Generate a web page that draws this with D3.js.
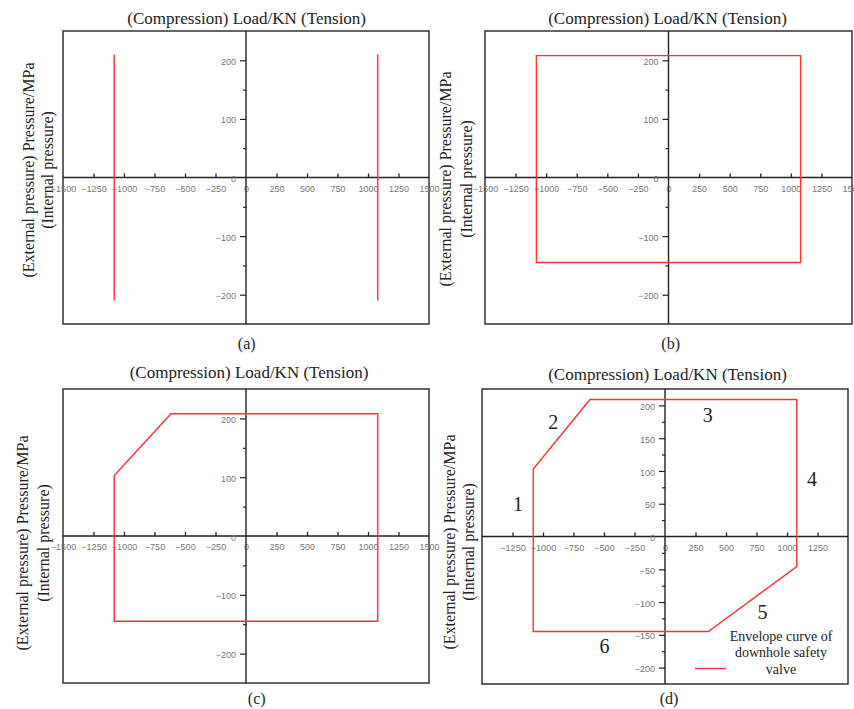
<!DOCTYPE html>
<html>
<head>
<meta charset="utf-8">
<style type="text/css">
body { margin: 0; background: #fff; }
.title, .sub, .ylab, .num, .leg { font-family: "Liberation Serif", "Times New Roman", serif; fill: #222; }
.tick text { font-family: "Liberation Sans", sans-serif; font-size: 9px; fill: #777; }
</style>
</head>
<body>
<script src="https://cdn.jsdelivr.net/npm/d3@7"></script>
<script type="text/javascript">
  // tick values
  var xTicksFull = [-1500, -1250, -1000, -750, -500, -250, 0, 250, 500, 750, 1000, 1250, 1500];
  var xTicksD = [-1250, -1000, -750, -500, -250, 0, 250, 500, 750, 1000, 1250];
  var yMajorABC = [-200, -100, 0, 100, 200];
  var yMinorABC = [-150, -50, 50, 150];
  var yMajorD = [-200, -150, -100, -50, 0, 50, 100, 150, 200];
  var yMinorD = [-175, -125, -75, -25, 25, 75, 125, 175];

  // envelope data (load KN, pressure MPa)
  var linesA = [
    [[-1080, -210], [-1080, 210]],
    [[1080, -210], [1080, 210]]
  ];
  var envelopeB = [[-1080, -145], [-1080, 208], [1080, 208], [1080, -145]];
  var envelopeC = [[-1080, -145], [-1080, 103], [-615, 208], [1080, 208], [1080, -145]];
  var envelopeD = [[-1080, -145], [-1080, 103], [-615, 209], [1080, 209], [1080, -46], [355, -145]];

  // zone numbers in (d)
  var zoneNames = ['1', '2', '3', '4', '5', '6'];
  var zoneX = [-1205, -915, 350, 1205, 800, -495];
  var zoneY = [50, 174, 186, 87, -115, -167];

  var legendLines = ['Envelope curve of', 'downhole safety', 'valve'];

  var svg = d3.select('body').append('svg')
          .attr('width', 854)
          .attr('height', 709);

  var fmt = d3.format('d');

  var panels = [
    {id: 'a', x0: 63, x1: 429, y0: 31, y1: 324, yDom: [-250, 250], xt: xTicksFull, yMaj: yMajorABC, yMin: yMinorABC,
     title: [246.7, 24], sub: [246.7, 349], yl: [28, 47, 170], paths: linesA, closed: false},
    {id: 'b', x0: 485, x1: 852, y0: 31, y1: 324, yDom: [-250, 250], xt: xTicksFull, yMaj: yMajorABC, yMin: yMinorABC,
     title: [667.5, 24], sub: [670.7, 349], yl: [445, 466, 179], paths: [envelopeB], closed: true},
    {id: 'c', x0: 63, x1: 429, y0: 389, y1: 683, yDom: [-250, 250], xt: xTicksFull, yMaj: yMajorABC, yMin: yMinorABC,
     title: [249, 378], sub: [256.7, 704], yl: [22, 43, 543], paths: [envelopeC], closed: true},
    {id: 'd', x0: 482, x1: 848, y0: 389, y1: 684, yDom: [-225, 225], xt: xTicksD, yMaj: yMajorD, yMin: yMinorD,
     title: [667.5, 380], sub: [669, 704], yl: [449, 468, 542], paths: [envelopeD], closed: true}
  ];

  panels.forEach(function(p) {
    var g = svg.append('g').attr('class', 'panel-' + p.id);
    var x = d3.scaleLinear().domain([-1500, 1500]).range([p.x0, p.x1]);
    var y = d3.scaleLinear().domain(p.yDom).range([p.y1, p.y0]);

    // frame
    g.append('rect')
      .attr('x', p.x0).attr('y', p.y0)
      .attr('width', p.x1 - p.x0).attr('height', p.y1 - p.y0)
      .attr('fill', 'none').attr('stroke', '#333').attr('stroke-width', 1.5);

    // x axis through zero, ticks pointing up
    var xa = g.append('g')
      .attr('transform', 'translate(0,' + y(0) + ')')
      .call(d3.axisBottom(x).tickValues(p.xt).tickFormat(fmt).tickSizeInner(-4).tickSizeOuter(0).tickPadding(8));
    xa.select('.domain').remove();
    xa.selectAll('.tick line').attr('stroke', '#222').attr('stroke-width', 1.3)
      .filter(function(d) { return Math.abs(d) === 1500 || d === 0; }).remove();
    g.append('line')
      .attr('x1', p.x0).attr('x2', p.x1).attr('y1', y(0)).attr('y2', y(0))
      .attr('stroke', '#222').attr('stroke-width', 1.4);

    // y axis through zero
    var ya = g.append('g')
      .attr('transform', 'translate(' + x(0) + ',0)')
      .call(d3.axisLeft(y).tickValues(p.yMaj).tickFormat(fmt).tickSizeInner(6).tickSizeOuter(0).tickPadding(4));
    ya.select('.domain').remove();
    ya.selectAll('.tick line').attr('stroke', '#222').attr('stroke-width', 1.2)
      .filter(function(d) { return d === 0; }).remove();
    ya.selectAll('.tick text').attr('dy', '0.45em');
    var ym = g.append('g')
      .attr('transform', 'translate(' + x(0) + ',0)')
      .call(d3.axisLeft(y).tickValues(p.yMin).tickSizeInner(3).tickSizeOuter(0).tickFormat(''));
    ym.select('.domain').remove();
    ym.selectAll('.tick line').attr('stroke', '#222').attr('stroke-width', 1.2);
    g.append('line')
      .attr('x1', x(0)).attr('x2', x(0)).attr('y1', p.y0).attr('y2', p.y1)
      .attr('stroke', '#222').attr('stroke-width', 1.4);

    // envelope
    var line = d3.line().x(function(d) { return x(d[0]); }).y(function(d) { return y(d[1]); });
    g.selectAll('.env')
      .data(p.paths)
      .enter().append('path')
      .attr('class', 'env')
      .attr('d', function(d) { return line(d) + (p.closed ? 'Z' : ''); })
      .attr('fill', 'none')
      .attr('stroke', '#ff3030')
      .attr('stroke-width', 1.4);

    // texts
    g.append('text').attr('class', 'title')
      .attr('x', p.title[0]).attr('y', p.title[1])
      .attr('text-anchor', 'middle').style('font-size', '17px')
      .text('(Compression) Load/KN (Tension)');
    g.append('text').attr('class', 'sub')
      .attr('x', p.sub[0]).attr('y', p.sub[1])
      .attr('text-anchor', 'middle').style('font-size', '16px')
      .text('(' + p.id + ')');
    g.append('text').attr('class', 'ylab')
      .attr('transform', 'translate(' + p.yl[0] + ',' + p.yl[2] + ') rotate(-90)')
      .attr('text-anchor', 'middle').attr('dy', '0.35em').style('font-size', '16px')
      .text('(External pressure) Pressure/MPa');
    g.append('text').attr('class', 'ylab')
      .attr('transform', 'translate(' + p.yl[1] + ',' + p.yl[2] + ') rotate(-90)')
      .attr('text-anchor', 'middle').attr('dy', '0.35em').style('font-size', '16px')
      .text('(Internal pressure)');

    if (p.id === 'd') {
      g.selectAll('.num')
        .data(zoneNames)
        .enter().append('text')
        .attr('class', 'num')
        .attr('x', function(d, i) { return x(zoneX[i]); })
        .attr('y', function(d, i) { return y(zoneY[i]); })
        .attr('dy', '0.35em')
        .attr('text-anchor', 'middle')
        .style('font-size', '20px')
        .text(function(d) { return d; });

      // legend
      g.selectAll('.leg')
        .data(legendLines)
        .enter().append('text')
        .attr('class', 'leg')
        .attr('x', 781)
        .attr('y', function(d, i) { return 636 + i * 16.5; })
        .attr('dy', '0.35em')
        .attr('text-anchor', 'middle')
        .style('font-size', '14px')
        .text(function(d) { return d; });
      g.append('line')
        .attr('x1', 695).attr('x2', 726).attr('y1', 668.5).attr('y2', 668.5)
        .attr('stroke', '#ff3030').attr('stroke-width', 1.4);
    }
  });
</script>
</body>
</html>
